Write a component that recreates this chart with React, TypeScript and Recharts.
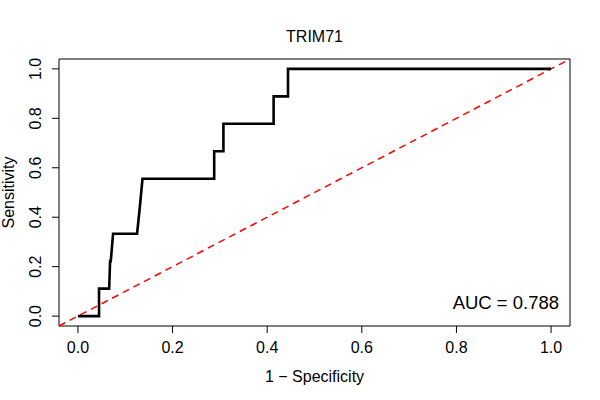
import {
  LineChart,
  Line,
  XAxis,
  YAxis,
  ReferenceLine,
  ReferenceArea,
  ReferenceDot,
  Label,
} from 'recharts'

// ROC curve for TRIM71, vertices
const fprValues = [0, 0.0446, 0.0446, 0.066, 0.068, 0.0694, 0.0743, 0.125, 0.131, 0.1365, 0.288, 0.288, 0.3075, 0.3075, 0.4136, 0.4136, 0.444, 0.444, 1]
const sensValues = [0, 0, 0.1111, 0.1111, 0.2222, 0.2222, 0.3333, 0.3333, 0.4444, 0.5556, 0.5556, 0.6667, 0.6667, 0.7778, 0.7778, 0.8889, 0.8889, 1, 1]
const axisTicks = [0, 0.2, 0.4, 0.6, 0.8, 1]
const axisDomain = [-0.04, 1.04]
const chartTitle = 'TRIM71'
const aucLabel = 'AUC = 0.788'

const rocData = fprValues.map((fpr, i) => ({ fpr, sens: sensValues[i] }))

const FONT = '"Liberation Sans", Arial, Helvetica, sans-serif'

function XTick({ x, y, payload }: any) {
  return (
    <text x={x} y={y + 11.4} textAnchor="middle" fontSize={16} fontFamily={FONT} fill="#000">
      {Number(payload.value).toFixed(1)}
    </text>
  )
}

function YTick({ y, payload }: any) {
  const bx = 40.7
  return (
    <text
      x={bx}
      y={y}
      transform={`rotate(-90 ${bx} ${y})`}
      textAnchor="middle"
      fontSize={16}
      fontFamily={FONT}
      fill="#000"
    >
      {Number(payload.value).toFixed(1)}
    </text>
  )
}

export default function App() {
  return (
    <div style={{ position: 'absolute', left: 0, top: 0, width: 600, height: 400, background: '#fff' }}>
      <LineChart width={600} height={400} margin={{ top: 59, right: 30, left: 0, bottom: 0 }}>
        <XAxis
          dataKey="fpr"
          type="number"
          domain={axisDomain}
          ticks={axisTicks}
          allowDataOverflow
          axisLine={false}
          tickSize={7}
          tickMargin={9}
          tickLine={{ stroke: '#000' }}
          tick={<XTick />}
          height={74}
        >
          <Label
            content={(p: any) => (
              <text
                x={p.viewBox.x + p.viewBox.width / 2}
                y={382}
                textAnchor="middle"
                fontSize={16}
                fontFamily={FONT}
                fill="#000"
              >
                1 − Specificity
              </text>
            )}
          />
        </XAxis>
        <YAxis
          type="number"
          domain={axisDomain}
          ticks={axisTicks}
          allowDataOverflow
          axisLine={false}
          tickSize={7}
          tickLine={{ stroke: '#000' }}
          tick={<YTick />}
          width={59}
        >
          <Label
            content={(p: any) => {
              const cy = p.viewBox.y + p.viewBox.height / 2
              return (
                <text
                  x={13.5}
                  y={cy}
                  transform={`rotate(-90 13.5 ${cy})`}
                  textAnchor="middle"
                  fontSize={16}
                  fontFamily={FONT}
                  fill="#000"
                >
                  Sensitivity
                </text>
              )
            }}
          />
        </YAxis>
        <ReferenceArea
          x1={axisDomain[0]}
          x2={axisDomain[1]}
          y1={axisDomain[0]}
          y2={axisDomain[1]}
          fill="none"
          fillOpacity={0}
          stroke="#000"
          strokeWidth={1}
          ifOverflow="visible"
        />
        <ReferenceLine
          segment={[
            { x: axisDomain[0], y: axisDomain[0] },
            { x: axisDomain[1], y: axisDomain[1] },
          ]}
          stroke="#ff0000"
          strokeWidth={1.5}
          strokeDasharray="7 5"
          ifOverflow="visible"
        />
        <Line
          data={rocData}
          dataKey="sens"
          type="linear"
          stroke="#000"
          strokeWidth={2.6}
          dot={false}
          activeDot={false}
          isAnimationActive={false}
        />
        <ReferenceDot
          x={1.04}
          y={0.5}
          r={0}
          fill="none"
          stroke="none"
          ifOverflow="visible"
          label={(p: any) => (
            <text x={314.5} y={42} textAnchor="middle" fontSize={16} fontFamily={FONT} fill="#000">
              {chartTitle}
            </text>
          )}
        />
        <ReferenceDot
          x={1.017}
          y={0.028}
          r={0}
          fill="none"
          stroke="none"
          ifOverflow="visible"
          label={(p: any) => (
            <text
              x={p.viewBox.x + p.viewBox.width / 2}
              y={p.viewBox.y + p.viewBox.height / 2}
              textAnchor="end"
              fontSize={18.5}
              fontFamily={FONT}
              fill="#000"
            >
              {aucLabel}
            </text>
          )}
        />
      </LineChart>
    </div>
  )
}
